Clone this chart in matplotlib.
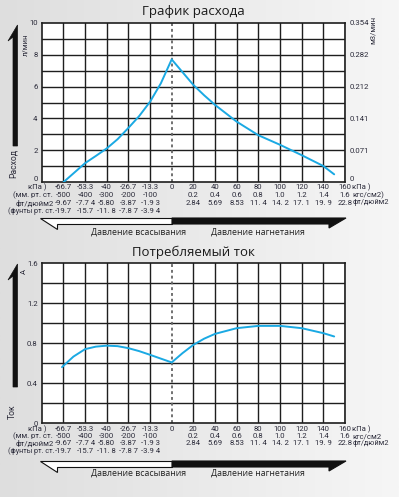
import numpy as np
import matplotlib
matplotlib.use("Agg")
import matplotlib.pyplot as plt
from matplotlib.patches import Polygon
from matplotlib.colors import LinearSegmentedColormap

plt.rcParams['font.family'] = ['Open Sans', 'DejaVu Sans']
NARROW = ['Liberation Sans Narrow', 'Roboto', 'DejaVu Sans']

# ---------------- data ----------------
kpa_ticks = [-66.7, -53.3, -40, -26.7, -13.3, 0, 20, 40, 60, 80, 100, 120, 140, 160]
kpa_labels = ['-66.7', '-53.3', '-40', '-26.7', '-13.3', '0', '20', '40', '60', '80', '100', '120', '140', '160']
mmhg_labels = ['-500', '-400', '-300', '-200', '-100']
inhg_labels = ['-9.67', '-7.7 4', '-5.80', '-3.87', '-1.9 3']
lbs_labels = ['-19.7', '-15.7', '-11. 8', '-7.8 7', '-3.9 4']
kgf_labels = ['0.2', '0.4', '0.6', '0.8', '1.0', '1.2', '1.4', '1.6']
psi_labels = ['2.84', '5.69', '8.53', '11. 4', '14. 2', '17. 1', '19. 9', '22.8']

flow_kpa = [-66.7, -60, -53.3, -46.7, -40, -33.3, -26.7, -20, -13.3, -6.67, 0,
            10, 20, 30, 40, 60, 80, 100, 120, 140, 150]
flow_lpm = [0.0, 0.6, 1.2, 1.65, 2.12, 2.7, 3.4, 4.15, 5.05, 6.2, 7.7,
            6.9, 6.1, 5.45, 4.85, 3.8, 2.95, 2.35, 1.7, 1.02, 0.5]
flow_left_ticks = [0, 2, 4, 6, 8, 10]
flow_right_labels = ['0', '0.071', '0.141', '0.212', '0.282', '0.354']

cur_kpa = [-67.5, -60.5, -53.3, -46.7, -40, -33.3, -26.7, -20, -13.3, -6.67, 0,
           10, 20, 30, 40, 60, 80, 100, 120, 140, 150]
cur_amp = [0.56, 0.665, 0.74, 0.765, 0.775, 0.77, 0.75, 0.72, 0.683, 0.645, 0.607,
           0.70, 0.783, 0.845, 0.893, 0.95, 0.973, 0.973, 0.95, 0.90, 0.867]
cur_ticks = [0, 0.4, 0.8, 1.2, 1.6]
cur_tick_labels = ['0', '0.4', '0.8', '1.2', '1.6']

# ---------------- helpers ----------------
W, H = 399, 497
fig = plt.figure(figsize=(W / 100, H / 100), dpi=100)

def P(x, y):
    return (x / W, 1 - y / H)

# background gradient
bg = fig.add_axes([0, 0, 1, 1], zorder=-10)
cmap = LinearSegmentedColormap.from_list('bg', ['#dedede', '#f6f6f6'])
bg.imshow(np.linspace(0, 1, 256)[None, :], aspect='auto', cmap=cmap, extent=[0, 1, 0, 1])
bg.set_axis_off()

def fwd(k):
    k = np.asarray(k, float)
    return np.where(k < 0, k / (80 / 6), k / 20)

def inv(u):
    u = np.asarray(u, float)
    return np.where(u < 0, u * (80 / 6), u * 20)

LINE = '#1aa9e3'
TXT = '#2b2b3a'
FS = 5.6

def make_axes(rect, ymax, ystep):
    ax = fig.add_axes(rect)
    ax.set_xscale('function', functions=(fwd, inv))
    ax.set_xlim(-80, 160)
    ax.set_ylim(0, ymax)
    ax.set_facecolor('white')
    grid_x = [k for k in kpa_ticks if k != 0]
    for k in grid_x:
        ax.axvline(k, color='#1e1e1e', lw=1.0, zorder=1)
    for yv in np.arange(ystep, ymax, ystep):
        ax.axhline(yv, color='#1e1e1e', lw=1.0, zorder=1)
    ax.axvline(0, color='#666666', lw=1.3, ls=(0, (1.6, 1.6)), zorder=2)
    for s in ax.spines.values():
        s.set_color('#1e1e1e')
        s.set_linewidth(1.2)
    ax.set_xticks([])
    ax.tick_params(axis='y', length=0, pad=3, labelsize=FS, labelcolor=TXT)
    return ax

def txt(x, y, s, ha='center', **kw):
    return fig.text(*P(x, y), s, ha=ha, va='center', fontsize=kw.pop('fontsize', FS),
                    color=kw.pop('color', TXT), family=kw.pop('family', NARROW), **kw)

def table(ax, y0, dy):
    tr = ax.get_xaxis_transform()
    bb = ax.get_position()

    def ya(ypx):
        return ((1 - ypx / H) - bb.y0) / bb.height

    def put(ks, labs, ypx):
        for k, lab in zip(ks, labs):
            ax.text(k, ya(ypx), lab, transform=tr, ha='center', va='center', fontsize=FS,
                    color=TXT, family=NARROW, clip_on=False)

    put(kpa_ticks, kpa_labels, y0)
    put(kpa_ticks[:5], mmhg_labels, y0 + dy)
    put(kpa_ticks[:5], inhg_labels, y0 + 2 * dy)
    put(kpa_ticks[:5], lbs_labels, y0 + 3 * dy)
    put(kpa_ticks[6:], kgf_labels, y0 + dy)
    put(kpa_ticks[6:], psi_labels, y0 + 2 * dy)
    # left unit labels
    txt(46, y0, 'кПа )', ha='right')
    txt(53, y0 + dy, '(мм. рт. ст.', ha='right')
    txt(54, y0 + 2 * dy, 'фт/дюйм2', ha='right')
    txt(54, y0 + 3 * dy, '(фунты рт. ст.', ha='right', fontsize=5.2)
    # right unit labels
    txt(352, y0, 'кПа )', ha='left')
    txt(352, y0 + dy, 'кгс/см2)' if dy > 7.5 else 'кгс/см2', ha='left')
    txt(353, y0 + 2 * dy, 'фт/дюйм2', ha='left', fontsize=5.3)

def bottom_arrows(yt, ylab):
    white = Polygon([P(40, yt), P(172, yt), P(172, yt + 6), P(57, yt + 6), P(57, yt + 11)],
                    closed=True, facecolor='white', edgecolor='#111111', lw=0.8,
                    transform=fig.transFigure, figure=fig)
    black = Polygon([P(172, yt), P(346, yt), P(329, yt + 10), P(329, yt + 6), P(172, yt + 6)],
                    closed=True, facecolor='#111111', edgecolor='#111111', lw=0.8,
                    transform=fig.transFigure, figure=fig)
    fig.patches.extend([white, black])
    txt(139, ylab, 'Давление всасывания', fontsize=6.3, color='#222222', family=['Open Sans', 'DejaVu Sans'])
    txt(258, ylab, 'Давление нагнетания', fontsize=6.3, color='#222222', family=['Open Sans', 'DejaVu Sans'])

def side_arrow(ytop, ybot):
    arr = Polygon([P(13, ybot), P(17.5, ybot), P(17.5, ytop), P(8, ytop + 16), P(13, ytop + 12)],
                  closed=True, facecolor='#111111', edgecolor='#111111', lw=0.5,
                  transform=fig.transFigure, figure=fig)
    fig.patches.append(arr)

def style_ticklabels(ax, raise_zero):
    for i, t in enumerate(ax.get_yticklabels()):
        t.set_family(NARROW)
        if raise_zero and i == 0:
            t.set_verticalalignment('bottom')

# ---------------- chart 1: flow ----------------
ax1 = make_axes([41.7 / W, 1 - 182.3 / H, (345 - 41.7) / W, (182.3 - 22.7) / H], 10, 1)
ax1.plot(flow_kpa, flow_lpm, color=LINE, lw=1.4, zorder=3, solid_capstyle='round')
ax1.set_yticks(flow_left_ticks)
ax1.set_yticklabels([str(v) for v in flow_left_ticks])
style_ticklabels(ax1, True)
ax1r = ax1.twinx()
ax1r.set_ylim(0, 10)
ax1r.set_yticks(flow_left_ticks)
ax1r.set_yticklabels(flow_right_labels)
ax1r.tick_params(axis='y', length=0, pad=3, labelsize=FS, labelcolor=TXT)
style_ticklabels(ax1r, True)
for s in ax1r.spines.values():
    s.set_visible(False)
fig.text(*P(193, 12), 'График расхода', ha='center', va='center', fontsize=9.5, color='#1a1a1a')
txt(373, 30, 'м3/мин', rotation=90)
txt(25, 45, 'л/мин', rotation=90)
txt(13, 163, 'Расход', rotation=90, fontsize=6.2)
side_arrow(25, 146)
table(ax1, 187, 8)
bottom_arrows(218, 232)

# ---------------- chart 2: current ----------------
ax2 = make_axes([41.7 / W, 1 - 423 / H, (345 - 41.7) / W, (423 - 263.3) / H], 1.6, 0.2)
ax2.plot(cur_kpa, cur_amp, color=LINE, lw=1.4, zorder=3, solid_capstyle='round')
ax2.set_yticks(cur_ticks)
ax2.set_yticklabels(cur_tick_labels)
style_ticklabels(ax2, False)
fig.text(*P(193, 252), 'Потребляемый ток', ha='center', va='center', fontsize=9.5, color='#1a1a1a')
txt(24, 272, 'A', rotation=90)
txt(12, 412, 'Ток', rotation=90, fontsize=6.2)
side_arrow(264, 387)
table(ax2, 429, 7.2)
bottom_arrows(461, 473)

fig.savefig('out.png', dpi=100)
